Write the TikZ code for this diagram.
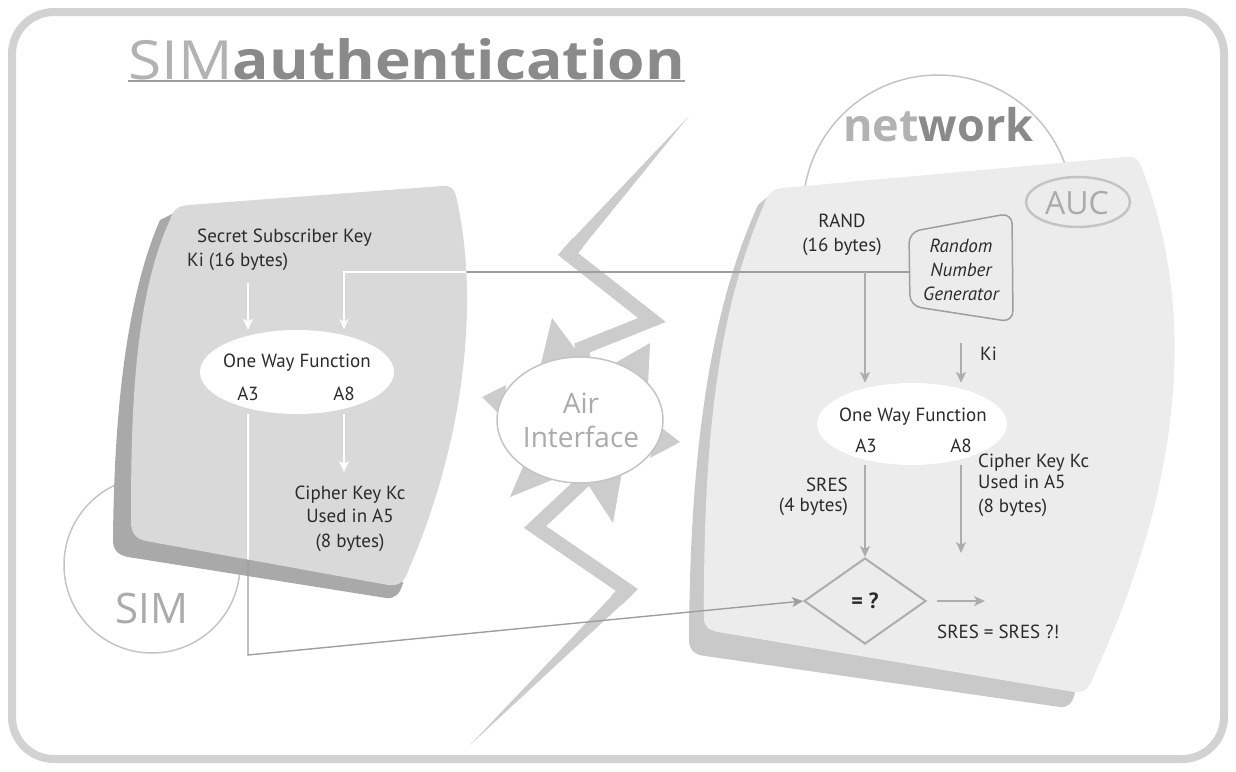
\documentclass[tikz,border=0pt]{standalone}
\usepackage{graphicx}
\usepackage{fontspec}
\setmainfont{PT Sans}
\newfontfamily\headfont{Open Sans}
\usetikzlibrary{shapes.geometric,arrows.meta}

\definecolor{framegray}{HTML}{D2D2D2}
\definecolor{simgray}{HTML}{B2B2B2}
\definecolor{authgray}{HTML}{8A8A8A}
\definecolor{simfill}{HTML}{D9D9D9}
\definecolor{simshadow}{HTML}{A9A9A9}
\definecolor{netfill}{HTML}{ECECEC}
\definecolor{netshadow}{HTML}{C9C9C9}
\definecolor{boltgray}{HTML}{CCCCCC}
\definecolor{ringgray}{HTML}{C4C4C4}
\definecolor{labelgray}{HTML}{ABABAB}
\definecolor{linegray}{HTML}{9E9E9E}
\definecolor{arrowgray}{HTML}{ADADAD}
\definecolor{textdark}{HTML}{2B2B2B}

% outline of the SIM card body
\def\simoutline{(131,522) .. controls (131,420) and (133,300) .. (170,220)
  .. controls (173,210) and (177,206) .. (188,205)
  -- (442,186)
  .. controls (450,185) and (454,188) .. (456,196)
  .. controls (478,290) and (470,430) .. (406,576)
  .. controls (402,584) and (397,586) .. (388,585)
  -- (146,541)
  .. controls (136,539) and (131,533) .. (131,522) -- cycle}

% outline of the network (AUC) body
\def\netoutline{(704,618) .. controls (703,420) and (722,300) .. (766,200)
  .. controls (769,192) and (773,189) .. (782,188)
  -- (1126,157)
  .. controls (1134,156) and (1138,158) .. (1141,166)
  .. controls (1190,290) and (1195,460) .. (1090,684)
  .. controls (1086,691) and (1082,693) .. (1074,692)
  -- (718,632)
  .. controls (709,630) and (704,627) .. (704,618) -- cycle}

\begin{document}
\begin{tikzpicture}[x=1pt,y=-1pt,
  body/.style={font=\fontsize{19}{22}\selectfont, text=textdark, inner sep=0pt},
  bodyit/.style={font=\fontsize{19}{22}\selectfont\itshape, text=textdark, inner sep=0pt},
  biglabel/.style={font=\headfont, text=labelgray, inner sep=0pt},
  owf/.style={ellipse, fill=white, inner sep=0pt},
  ray/.style={fill=boltgray},
  garrow/.style={draw=arrowgray, line width=2pt, -{Stealth[length=11pt,width=10pt,inset=3pt]}},
  warrow/.style={draw=white, line width=2pt, -{Stealth[length=11pt,width=10pt,inset=3pt]}},
  link/.style={draw=linegray, line width=1.4pt},
  linktip/.style={link, -{Stealth[length=11pt,width=10pt,inset=3pt]}}
]
\useasboundingbox (0,0) rectangle (1236,771);

% frame
\draw[framegray, line width=8pt, rounded corners=42pt] (12,12) rectangle (1224,759);

% title
\node[anchor=base west, inner sep=0pt, font=\headfont\fontsize{54}{60}\selectfont] (title) at (128,79)
  {\scalebox{1.12}[1]{\textcolor{simgray}{SIM}\textcolor{authgray}{\bfseries authentication}}};
\coordinate (ulA) at (128,81);
\coordinate (ulB) at (title.base east |- ulA);
\draw[linegray, line width=2pt] (ulA) -- (ulB);

% SIM ring and card
\node[circle, draw=ringgray, line width=1.5pt, minimum size=176pt, inner sep=0pt] (simring) at (152,565) {};
\node[biglabel, anchor=base, font=\headfont\fontsize{42}{46}\selectfont] (simtxt) at (152,623) {SIM};
\fill[simshadow] (160,220) .. controls (125,300) and (114,420) .. (113,540)
  .. controls (113,550) and (118,555) .. (128,557)
  -- (386,598)
  .. controls (395,599) and (400,594) .. (403,583)
  -- (300,400) -- (180,210) -- cycle;
\fill[simfill] \simoutline;

% network ring and body
\node[circle, draw=ringgray, line width=1.5pt, minimum size=270pt, inner sep=0pt] (netring) at (938,210) {};
\fill[netshadow] (758,205) .. controls (715,300) and (690,430) .. (689,640)
  .. controls (689,650) and (695,655) .. (705,656)
  -- (1060,707)
  .. controls (1068,708) and (1073,703) .. (1075,692)
  -- (900,500) -- (770,195) -- cycle;
\fill[netfill] \netoutline;
\node[anchor=base west, inner sep=0pt, font=\headfont\bfseries\fontsize{45}{50}\selectfont] (nettxt) at (843,141)
  {\textcolor{simgray}{net}\textcolor{authgray}{work}};

% air interface: lightning bolt and rays
\fill[boltgray] (689,116) -- (573.3,258.6) -- (562.7,249.4) -- cycle;
\draw[boltgray, line width=14pt, line join=miter] (577.9,242.7) -- (568,254) -- (652,320) -- (582,348)
  -- (600,466) -- (535,527) -- (627,590) -- (616.3,600.5);
\fill[boltgray] (470,745) -- (631.9,595) -- (622.1,585) -- cycle;
\fill[ray] (552,318) -- (585,362) -- (540,368) -- cycle;
\fill[ray] (650,343) -- (648,385) -- (610,366) -- cycle;
\fill[ray] (482,397) -- (506,385) -- (503,418) -- cycle;
\fill[ray] (680,442) -- (658,425) -- (650,458) -- cycle;
\fill[ray] (510,497) -- (525,462) -- (557,478) -- cycle;
\fill[ray] (613,523) -- (585,480) -- (622,472) -- cycle;
\node[ellipse, draw=ringgray, fill=white, line width=1.5pt, minimum width=166pt, minimum height=126pt, inner sep=0pt] (air) at (580,420) {};
\node[biglabel, anchor=base, font=\headfont\fontsize{28}{30}\selectfont] (airA) at (581,413) {Air};
\node[biglabel, anchor=base, font=\headfont\fontsize{28}{30}\selectfont] (airB) at (581,447) {Interface};

% AUC
\node[ellipse, draw=ringgray, line width=2.5pt, minimum width=104pt, minimum height=50pt, inner sep=0pt] (auc) at (1078,202) {};
\node[biglabel, font=\headfont\fontsize{32}{34}\selectfont] (auctxt) at (1077,203) {AUC};

% random number generator box
\draw[draw=linegray, line width=1.5pt, rounded corners=11pt] (909,232) -- (1012,213) -- (1013,322) -- (910,306) -- cycle;
\node[bodyit, anchor=base] (rng1) at (961,252) {Random};
\node[bodyit, anchor=base] (rng2) at (961,276) {Number};
\node[bodyit, anchor=base] (rng3) at (961,300) {Generator};
\coordinate (rngW) at (909,272);

% one way functions and comparator
\node[owf, minimum width=194pt, minimum height=84pt] (owfL) at (297,372) {};
\node[owf, minimum width=190pt, minimum height=82pt] (owfR) at (912,424) {};
\node[diamond, draw=arrowgray, line width=2pt, minimum width=122pt, minimum height=86pt, inner sep=0pt] (cmp) at (865,601) {};

% labels, SIM side
\node[body, anchor=base west] (skey) at (197,242) {Secret Subscriber Key};
\node[body, anchor=base west] (kiL) at (187,266) {Ki (16 bytes)};
\node[body, anchor=base] (owfLt) at (297,367) {One Way Function};
\node[body, anchor=base] (a3L) at (248,400) {A3};
\node[body, anchor=base] (a8L) at (344,400) {A8};
\node[body, anchor=base] (kcL1) at (350,499) {Cipher Key Kc};
\node[body, anchor=base] (kcL2) at (350,522) {Used in A5};
\node[body, anchor=base] (kcL3) at (350,547) {(8 bytes)};

% labels, network side
\node[body, anchor=base] (randR) at (842,227) {RAND};
\node[body, anchor=base] (randR2) at (842,251) {(16 bytes)};
\node[body, anchor=base west] (kiR) at (980,360) {Ki};
\node[body, anchor=base] (owfRt) at (913,421) {One Way Function};
\node[body, anchor=base] (a3R) at (866,452) {A3};
\node[body, anchor=base] (a8R) at (961,452) {A8};
\node[body, anchor=base east] (sres1) at (848,491) {SRES};
\node[body, anchor=base east] (sres2) at (848,511) {(4 bytes)};
\node[body, anchor=base west] (kcR1) at (978,467) {Cipher Key Kc};
\node[body, anchor=base west] (kcR2) at (978,488) {Used in A5};
\node[body, anchor=base west] (kcR3) at (978,512) {(8 bytes)};
\node[body, font=\fontsize{22}{24}\selectfont\bfseries] (cmpt) at (cmp) {= ?};
\node[body, anchor=base west] (verdict) at (937,638) {SRES = SRES ?!};

% connector end points
\coordinate (ranL) at (a8L |- rngW);
\coordinate (kiLdrop) at (a3L |- 0,283);
\coordinate (kcLtip) at (a8L |- 0,472);
\coordinate (a3turn) at (a3L |- 0,655);
\coordinate (randTap) at (865,272);
\coordinate (kiTap) at (961,343);
\coordinate (kcRtip) at (961,553);
\coordinate (outTip) at (985,601);

% links drawn over the air gap
\draw[linktip] (rngW) -- (ranL) -- (owfL.north -| ranL);
\draw[linktip] (owfL.south -| a3L) -- (a3turn) -- (cmp.west);
% the same links run white across the SIM card
\begin{scope}
  \clip \simoutline;
  \draw[warrow] (rngW) -- (ranL) -- (owfL.north -| ranL);
  \draw[warrow] (owfL.south -| a3L) -- (a3turn) -- (cmp.west);
\end{scope}

% SIM side arrows
\draw[warrow] (kiLdrop) -- (owfL.north -| kiLdrop);
\draw[warrow] (owfL.south -| a8L) -- (kcLtip);

% network side arrows
\draw[garrow] (randTap) -- (owfR.north -| randTap);
\draw[garrow] (kiTap) -- (owfR.north -| kiTap);
\draw[garrow] (owfR.south -| randTap) -- (cmp.north);
\draw[garrow] (owfR.south -| kiTap) -- (kcRtip);
\draw[garrow, shorten <=10pt] (cmp.east) -- (outTip);

\end{tikzpicture}
\end{document}
